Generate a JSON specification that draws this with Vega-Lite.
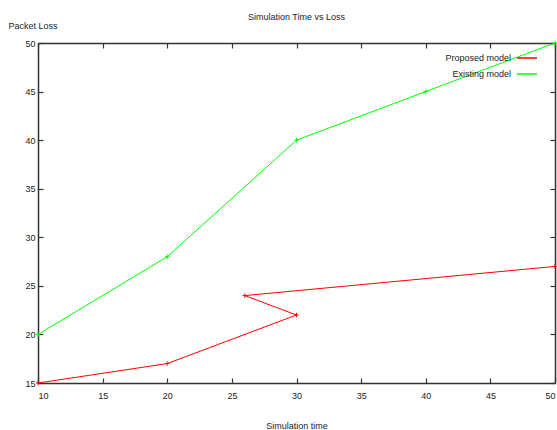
{
  "$schema": "https://vega.github.io/schema/vega-lite/v6.json",
  "width": 517,
  "height": 340,
  "autosize": {"type": "none"},
  "padding": {"left": 38, "top": 43, "right": 2, "bottom": 47},
  "background": "white",
  "config": {
    "view": {"stroke": null},
    "font": "Liberation Sans",
    "axis": {
      "grid": false,
      "domainColor": "#333333",
      "domainWidth": 1.5,
      "tickColor": "#333333",
      "tickWidth": 1.2,
      "tickSize": -5,
      "labelFont": "Liberation Sans",
      "labelFontSize": 9,
      "labelColor": "#222222",
      "titleFont": "Liberation Sans",
      "titleFontSize": 9,
      "titleFontWeight": "normal",
      "titleColor": "#222222"
    }
  },
  "title": {
    "text": "Simulation Time vs Loss",
    "fontSize": 9,
    "fontWeight": "normal",
    "font": "Liberation Sans",
    "color": "#222222",
    "anchor": "middle",
    "frame": "group",
    "offset": 0,
    "dy": 5,
    "baseline": "middle"
  },
  "data": {
    "values": [
      {"series": "Proposed model", "ord": 1, "time": 10, "loss": 15},
      {"series": "Proposed model", "ord": 2, "time": 20, "loss": 17},
      {"series": "Proposed model", "ord": 3, "time": 30, "loss": 22},
      {"series": "Proposed model", "ord": 4, "time": 26, "loss": 24},
      {"series": "Proposed model", "ord": 5, "time": 50, "loss": 27},
      {"series": "Existing model", "ord": 1, "time": 10, "loss": 20},
      {"series": "Existing model", "ord": 2, "time": 20, "loss": 28},
      {"series": "Existing model", "ord": 3, "time": 30, "loss": 40},
      {"series": "Existing model", "ord": 4, "time": 40, "loss": 45},
      {"series": "Existing model", "ord": 5, "time": 50, "loss": 50}
    ]
  },
  "layer": [
    {
      "mark": {"type": "line", "strokeWidth": 1, "point": {"shape": "M-1,0L1,0M0,-1L0,1", "filled": false, "size": 20, "strokeWidth": 1}},
      "encoding": {
        "x": {"field": "time", "type": "quantitative", "scale": {"domain": [10, 50], "nice": false, "zero": false},
              "axis": {"orient": "bottom", "values": [10, 15, 20, 25, 30, 35, 40, 45, 50], "labelPadding": 13, "title": "Simulation time", "titleY": 42, "titleBaseline": "middle"}},
        "y": {"field": "loss", "type": "quantitative", "scale": {"domain": [15, 50], "nice": false, "zero": false},
              "axis": {"orient": "left", "values": [15, 20, 25, 30, 35, 40, 45, 50], "labelPadding": 8, "title": "Packet Loss", "titleAngle": 0, "titleX": -30, "titleY": -18, "titleAlign": "left", "titleBaseline": "middle"}},
        "color": {"field": "series", "type": "nominal",
                  "scale": {"domain": ["Proposed model", "Existing model"], "range": ["#ff0000", "#00ff00"]},
                  "legend": {"title": null, "orient": "none", "legendX": 478, "legendY": 4, "symbolType": "stroke", "symbolSize": 400, "symbolStrokeWidth": 1.5, "symbolOpacity": 1, "labelAlign": "right", "labelOffset": -27, "labelFontSize": 9, "labelColor": "#222222", "rowPadding": -3}},
        "order": {"field": "ord", "type": "quantitative"}
      }
    },
    {
      "mark": {"type": "line", "opacity": 0},
      "encoding": {
        "x": {"field": "time", "type": "quantitative", "axis": {"orient": "top", "values": [10, 15, 20, 25, 30, 35, 40, 45, 50], "labels": false, "title": null}},
        "y": {"field": "loss", "type": "quantitative", "axis": {"orient": "right", "values": [15, 20, 25, 30, 35, 40, 45, 50], "labels": false, "title": null}},
        "detail": {"field": "series"},
        "order": {"field": "ord", "type": "quantitative"}
      }
    }
  ],
  "resolve": {"axis": {"x": "independent", "y": "independent"}}
}
